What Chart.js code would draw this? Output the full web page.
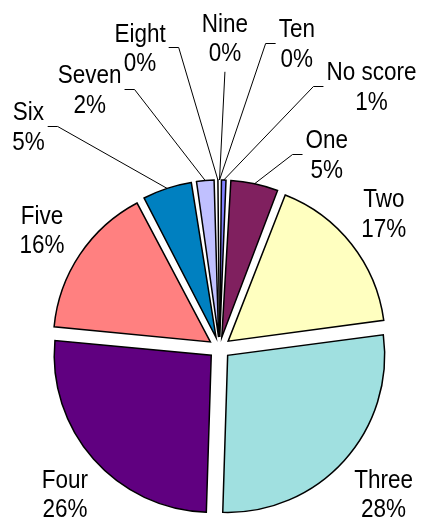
<!DOCTYPE html>
<html>
<head>
<meta charset="utf-8">
<script src="https://cdn.jsdelivr.net/npm/chart.js@4.4.1/dist/chart.umd.min.js"></script>
<style>
  html, body { margin: 0; padding: 0; background: #fff; }
  canvas { display: block; }
</style>
</head>
<body>
<canvas id="scoreChart" width="421" height="517"></canvas>
<script>
// slices run clockwise from 12 o'clock, "No score" first
const categories = ['No score', 'One', 'Two', 'Three', 'Four', 'Five', 'Six', 'Seven', 'Eight', 'Nine', 'Ten'];
const shares = [0.8, 5.1, 17, 27.6, 26, 15.8, 5.3, 2.1, 0.3, 0, 0];
const sliceColors = ['#8080FF', '#80205F', '#FFFFC0', '#A0E0E0', '#600080', '#FF8080',
                     '#0080C0', '#C0C0FF', '#000080', '#FF00FF', '#FFFF00'];

// label placement around the pie centre (degrees clockwise from top, px from centre)
const labelSpots = [
  { angle: 30.1, dist: 303, leader: true },   // No score
  { angle: 28.9, dist: 222, leader: true },   // One
  { angle: 50.5, dist: 213 },                 // Two
  { angle: 131.5, dist: 219 },                // Three
  { angle: 226.8, dist: 212 },                // Four
  { angle: 303.8, dist: 213.6 },              // Five
  { angle: 319.3, dist: 293, leader: true },  // Six
  { angle: 333.4, dist: 290, leader: true },  // Seven
  { angle: 345.2, dist: 311, leader: true },  // Eight
  { angle: 1.0, dist: 311, leader: true },    // Nine
  { angle: 14.2, dist: 315, leader: true }    // Ten
];

const pieRadius = 157;
const explode = 11;           // px each slice is pulled out
const labelFont = '"Liberation Sans", Arial, sans-serif';
const fontPx = 22.5;
const stretchY = 1.15;
const lineGap = 29.5;

// chart.js grows small exploded slices; keep every slice on the same radius
const evenRadius = {
  id: 'evenRadius',
  beforeDatasetsDraw(chart) {
    chart.getDatasetMeta(0).data.forEach(arc => {
      const fix = 1 - Math.sin(Math.min(Math.PI, arc.circumference));
      arc.outerRadius = pieRadius - explode * fix;
    });
  }
};

const sliceLabels = {
  id: 'sliceLabels',
  afterDraw(chart) {
    const ctx = chart.ctx;
    const meta = chart.getDatasetMeta(0);
    const total = shares.reduce((a, b) => a + b, 0);
    ctx.save();
    ctx.font = fontPx + 'px ' + labelFont;
    ctx.fillStyle = '#000';
    ctx.strokeStyle = '#000';
    ctx.lineWidth = 1;
    ctx.textAlign = 'center';
    meta.data.forEach((arc, i) => {
      const spot = labelSpots[i];
      const a = spot.angle * Math.PI / 180;
      const cx = arc.x + Math.sin(a) * spot.dist;
      const cy = arc.y - Math.cos(a) * spot.dist;
      const lines = [categories[i], Math.round(shares[i] / total * 100) + '%'];
      const w = Math.max(...lines.map(t => ctx.measureText(t).width));

      lines.forEach((t, k) => {
        const lineY = cy + (k - 0.5) * lineGap;
        ctx.save();
        ctx.translate(cx, lineY + 0.358 * fontPx * stretchY);
        ctx.scale(1, stretchY);
        ctx.fillText(t, 0, 0);
        ctx.restore();
      });

      if (spot.leader) {
        const mid = (arc.startAngle + arc.endAngle) / 2;
        const reach = explode + pieRadius;
        const px = arc.x + Math.cos(mid) * reach;
        const py = arc.y + Math.sin(mid) * reach;
        ctx.beginPath();
        if (px > cx - w / 2 && px < cx + w / 2) {
          ctx.moveTo(cx, cy + lineGap / 2 + 20);
          ctx.lineTo(px, py);
        } else {
          const side = px < cx ? -1 : 1;
          const x0 = cx + side * (w / 2 + 3);
          const x1 = x0 + side * 10;
          const ly = Math.round(cy) + 0.5;
          ctx.moveTo(x0, ly);
          ctx.lineTo(x1, ly);
          ctx.lineTo(px, py);
        }
        ctx.stroke();
      }
    });
    ctx.restore();
  }
};

const scoreChart = new Chart(document.getElementById('scoreChart'), {
  type: 'pie',
  data: {
    labels: categories,
    datasets: [{
      data: shares,
      backgroundColor: sliceColors,
      borderColor: '#000',
      borderWidth: 1.5,
      borderJoinStyle: 'miter',
      offset: explode * 4, // v4 draws a quarter of this
      hoverOffset: 0
    }]
  },
  options: {
    responsive: false,
    animation: false,
    events: [],
    radius: pieRadius,
    layout: {
      padding: { left: 18, right: 0, top: 179, bottom: 0 }
    },
    plugins: {
      legend: { display: false },
      tooltip: { enabled: false }
    }
  },
  plugins: [evenRadius, sliceLabels]
});
</script>
</body>
</html>
